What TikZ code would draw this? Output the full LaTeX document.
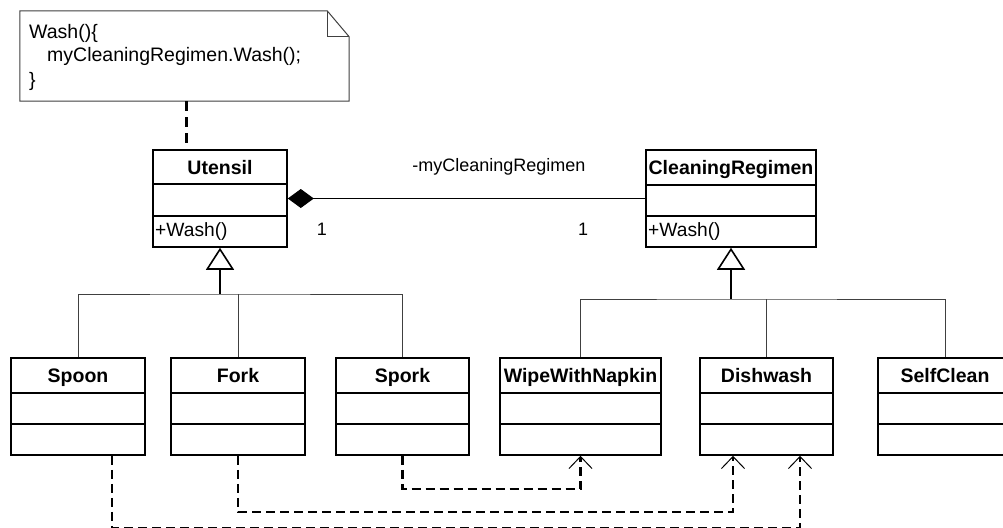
\documentclass[tikz,border=0pt]{standalone}
\usepackage{fontspec}
\setmainfont{Liberation Sans}
\usetikzlibrary{arrows.meta,fit}
\newcommand\umlclass[9]{%
  \node[cls, fit={(#2,#4) (#3,#7)}] (#1) {};
  \draw[divider] (#2,#5) -- (#3,#5) (#2,#6) -- (#3,#6);
  \node[ctitle] (#1-t) at ({(#2+#3)/2},#4+24) {#8};
  \node[cmeth] (#1-m) at (#2+2,#6+20) {#9};
}
\begin{document}
\begin{tikzpicture}[x=1pt,y=-1pt,
  cls/.style={draw, line width=1.6pt, inner sep=0pt},
  divider/.style={line width=1.6pt},
  ctitle/.style={font=\fontsize{19.5}{23}\selectfont\bfseries, anchor=base, inner sep=0pt},
  cmeth/.style={font=\fontsize{19.2}{23}\selectfont, anchor=base west, inner sep=0pt},
  ntext/.style={font=\fontsize{19.5}{23}\selectfont, anchor=base west, inner sep=0pt},
  lbl/.style={font=\fontsize{18}{22}\selectfont, anchor=base, inner sep=0pt},
  notebox/.style={line width=1pt, draw=black!75},
  notedash/.style={line width=3pt, dash pattern=on 10pt off 6pt},
  comp/.style={line width=1pt, arrows={Diamond[length=26pt,width=19pt]-}},
  gen/.style={line width=1.6pt, arrows={-Triangle[open,length=22pt,width=28pt,line width=1.6pt]}},
  branch/.style={line width=1pt, draw=black!75},
  dep/.style={line width=2.2pt, dash pattern=on 9pt off 5pt,
    arrows={-Straight Barb[length=12pt,width=23pt,line width=1pt]}}
]
\fill[white] (0,0) rectangle (1003,527);
\useasboundingbox (0,0) rectangle (1003,527);
\clip (0,0) rectangle (1003,527);

% note
\node[fit={(20,11) (349,101)}, inner sep=0pt] (note) {};
\draw[notebox] (note.south west) -- (note.north west) -- ([xshift=-22pt]note.north east)
  -- ([yshift=-26pt]note.north east) -- (note.south east) -- cycle;
\draw[notebox] ([xshift=-22pt]note.north east) -- ([xshift=-22pt,yshift=-26pt]note.north east)
  -- ([yshift=-26pt]note.north east);
\node[ntext] (n1) at (29,38) {Wash()\{};
\node[ntext] (n2) at (47,62) {myCleaningRegimen.Wash();};
\node[ntext] (n3) at (29,86) {\}};

% classes
\umlclass{utensil}{153}{287}{150}{184}{216}{247}{Utensil}{+Wash()}
\umlclass{clean}{646}{816}{150}{185}{216}{247}{CleaningRegimen}{+Wash()}
\umlclass{spoon}{11}{145}{358}{393}{424}{455}{Spoon}{}
\umlclass{fork}{171}{305}{358}{393}{424}{455}{Fork}{}
\umlclass{spork}{336}{469}{358}{393}{424}{455}{Spork}{}
\umlclass{wipe}{500}{661}{358}{393}{424}{455}{WipeWithNapkin}{}
\umlclass{dish}{700}{833}{358}{393}{424}{455}{Dishwash}{}
\umlclass{self}{878}{1012}{358}{393}{424}{455}{SelfClean}{}

% note anchor
\coordinate (nd) at ([xshift=1.5pt]note.south);
\draw[notedash] (nd) -- (nd |- utensil.north);

% composition
\draw[comp] (utensil.east) -- (clean.west);
\node[lbl] (role) at (499,171) {-myCleaningRegimen};
\node[lbl] (m1) at (322,235) {1};
\node[lbl] (m2) at (583,235) {1};

% generalizations
\coordinate (uj) at (220,294);
\draw[gen] (uj) -- (utensil.south);
\draw[branch] (spoon.north) |- (uj) -| (spork.north);
\draw[branch] (fork.north) -- (fork.north |- uj);

\coordinate (cj) at (731,299);
\draw[gen] (cj) -- (clean.south);
\draw[branch] (wipe.north) |- (cj) -| (self.north);
\draw[branch] (dish.north) -- (dish.north |- cj);

% dependencies
\draw[dep] (spork.south) -- ++(0,33) -| (wipe.south);
\draw[dep] (fork.south) -- ++(0,56) -| ([xshift=-33.5pt]dish.south);
\draw[dep] ([xshift=34pt]spoon.south) -- ++(0,72) -| ([xshift=33.5pt]dish.south);
\end{tikzpicture}
\end{document}
